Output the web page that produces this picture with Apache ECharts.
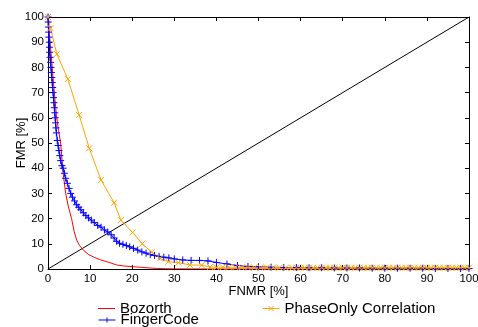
<!DOCTYPE html>
<html>
<head>
<meta charset="utf-8">
<script src="https://cdn.jsdelivr.net/npm/echarts@6/dist/echarts.min.js"></script>
<style>
  html, body { margin: 0; padding: 0; background: #fff; }
  #chart { width: 478px; height: 327px; }
</style>
</head>
<body>
<div id="chart"></div>
<script>
// FNMR [%] vs FMR [%] pairs
const bozorth = [
    [0, 100], [0.5, 90], [1.0, 80], [1.5, 70], [2.0, 61], [2.5, 55], [3.0, 50],
    [3.6, 38], [4.2, 30], [4.8, 25], [5.6, 20], [6.2, 15],
    [6.8, 11.5], [7.5, 9.3], [8.4, 7.5], [9.6, 5.8], [11, 4.6], [12.4, 3.7],
    [14.7, 2.5], [16.3, 1.6], [18, 1.2], [20.2, 0.9], [22, 0.7], [24.2, 0.4],
    [26, 0.2], [28, 0.1], [30, 0.05], [40, 0], [60, 0], [80, 0], [100, 0]
];

const fingerCode = [
    [0, 100], [0.05, 98], [0.1, 96], [0.15, 94], [0.2, 92], [0.3, 90], [0.35, 88],
    [0.4, 86], [0.5, 84], [0.6, 82], [0.7, 80], [0.8, 78], [0.9, 76], [1.0, 74],
    [1.1, 72], [1.2, 70], [1.3, 68], [1.4, 66], [1.5, 64], [1.6, 62], [1.7, 60],
    [1.8, 58], [1.9, 56], [2.0, 54], [2.2, 51], [2.4, 49], [2.6, 47], [2.8, 45],
    [3.0, 43], [3.3, 41], [3.6, 40], [3.9, 38], [4.2, 36], [4.6, 34], [5.0, 32],
    [5.4, 30], [5.8, 28.5], [6.3, 27], [6.8, 25.5], [7.3, 24.5], [7.8, 23.5],
    [8.4, 22.3], [9.0, 21.2], [9.6, 20.3], [10.3, 19.4], [11.0, 18.4],
    [11.8, 17.3], [12.6, 16.6], [13.4, 15.5], [14.2, 14.7], [15.0, 13.6],
    [15.7, 12.3], [16.3, 11.0], [17.0, 10.2], [17.8, 9.8], [18.6, 9.3],
    [19.4, 8.8], [20.3, 8.2], [21.3, 7.5], [22.3, 6.8], [23.3, 6.3], [24.3, 5.7],
    [25.3, 5.4], [26.4, 5.0], [27.5, 4.7], [28.7, 4.4], [30.0, 4.0], [32.0, 3.6],
    [34.0, 3.4], [36.0, 3.4], [38.0, 3.2], [40.0, 2.6], [42.5, 2.0], [45.0, 1.4],
    [47.5, 1.0], [50, 0.9], [53, 0.7], [56, 0.6], [59, 0.6], [62, 0.5], [65, 0.5],
    [68, 0.4], [71, 0.4], [74, 0.4], [77, 0.3], [80, 0.3], [83, 0.3], [86, 0.3],
    [89, 0.3], [92, 0.2], [95, 0.2], [98, 0.2], [100, 0.2]
];

const phaseOnly = [
    [0, 100], [0.6, 95.6], [2.1, 85.3], [4.7, 75.4], [7.4, 61.1], [9.8, 47.9],
    [12.6, 35.3], [15.7, 26.3], [17.3, 19.4], [20.1, 14.5], [22.4, 10.0],
    [24.6, 6.7], [26.6, 4.2], [28.6, 2.9], [31.0, 2.5], [33.7, 1.6], [36.5, 1.5],
    [38.5, 0.8], [40, 0.7], [41.5, 0.7], [43, 0.7], [44.5, 0.7], [46, 0.6],
    [47.5, 0.6], [49, 0.6], [50.5, 0.6], [52, 0.6], [53.5, 0.6], [55, 0.5],
    [56.5, 0.5], [58, 0.5], [59, 0.5], [60, 0.5], [61, 0.5], [62, 0.5], [63, 0.5],
    [64, 0.5], [65, 0.5], [66, 0.5], [67, 0.5], [68, 0.5], [69, 0.5], [70, 0.5],
    [71, 0.5], [72, 0.5], [73, 0.5], [74, 0.5], [75, 0.5], [76, 0.5], [77, 0.5],
    [78, 0.5], [79, 0.5], [80, 0.5], [81, 0.5], [82, 0.5], [83, 0.5], [84, 0.5],
    [85, 0.5], [86, 0.5], [87, 0.5], [88, 0.5], [89, 0.5], [90, 0.5], [91, 0.5],
    [92, 0.5], [93, 0.5], [94, 0.5], [95, 0.5], [96, 0.5], [97, 0.5], [98, 0.5],
    [99, 0.5], [100, 0.5]
];

const diagonal = [[0, 0], [100, 100]];

const font = "'Liberation Sans', Arial, sans-serif";
const plusPath = "path://M5,0L5,10M0,5L10,5";
const crossPath = "path://M0,0L10,10M10,0L0,10";

const chart = echarts.init(document.getElementById("chart"));

const tickInside = { inside: true, length: 4, lineStyle: { color: "#000" } };
const axisLine = { show: true, onZero: false, lineStyle: { color: "#000", width: 1 } };
const legendText = { fontSize: 15, color: "#000", fontFamily: font };

const option = {
    animation: false,
    textStyle: { fontFamily: font },
    grid: { left: 48, right: 9, top: 17, bottom: 58, containLabel: false, outerBoundsMode: "none" },
    legend: [
        {
            left: 98, top: 301, padding: 0, itemWidth: 17, itemHeight: 1,
            data: [{
                name: "Bozorth", icon: "rect",
                itemStyle: { color: "#ff0000", borderWidth: 0 }
            }],
            textStyle: legendText
        },
        {
            left: 262, top: 301, padding: 0, itemWidth: 17, itemHeight: 5,
            data: [{
                name: "PhaseOnly Correlation",
                icon: "path://M0,5L17,5M6,2.5L11,7.5M11,2.5L6,7.5",
                itemStyle: { color: "#ffa500", borderColor: "#ffa500", borderWidth: 1 }
            }],
            textStyle: legendText
        },
        {
            left: 98, top: 312.5, padding: 0, itemWidth: 17, itemHeight: 5,
            data: [{
                name: "FingerCode",
                icon: "path://M0,5L17,5M8.5,2.5L8.5,7.5",
                itemStyle: { color: "#0000ff", borderColor: "#0000ff", borderWidth: 1 }
            }],
            textStyle: legendText
        }
    ],
    xAxis: [
        {
            type: "value", min: 0, max: 100, interval: 10, position: "bottom",
            name: "FNMR [%]", nameLocation: "middle", nameGap: 16, nameMoveOverlap: false,
            nameTextStyle: { fontSize: 13, color: "#000", fontFamily: font },
            axisLine: axisLine, axisTick: tickInside, splitLine: { show: false },
            axisLabel: { color: "#000", fontSize: 11.5, margin: 4, fontFamily: font }
        },
        {
            type: "value", min: 0, max: 100, interval: 10, position: "top",
            axisLine: axisLine, axisTick: tickInside, splitLine: { show: false },
            axisLabel: { show: false }
        }
    ],
    yAxis: [
        {
            type: "value", min: 0, max: 100, interval: 10, position: "left",
            name: "FMR [%]", nameLocation: "middle", nameGap: 20, nameMoveOverlap: false,
            nameTextStyle: { fontSize: 13, color: "#000", fontFamily: font },
            axisLine: axisLine, axisTick: tickInside, splitLine: { show: false },
            axisLabel: { color: "#000", fontSize: 11.5, margin: 4, fontFamily: font }
        },
        {
            type: "value", min: 0, max: 100, interval: 10, position: "right",
            axisLine: axisLine, axisTick: tickInside, splitLine: { show: false },
            axisLabel: { show: false }
        }
    ],
    series: [
        {
            name: "diag", type: "line", data: diagonal, symbol: "none",
            lineStyle: { color: "#000", width: 1 }, silent: true
        },
        {
            name: "Bozorth", type: "line", data: bozorth, symbol: "none",
            color: "#ff0000", lineStyle: { color: "#ff0000", width: 1 }
        },
        {
            name: "FingerCode", type: "line", data: fingerCode,
            symbol: plusPath, symbolSize: 7, showAllSymbol: true,
            color: "#0000ff",
            lineStyle: { color: "#0000ff", width: 1 },
            itemStyle: { color: "#0000ff", borderColor: "#0000ff", borderWidth: 1 }
        },
        {
            name: "PhaseOnly Correlation", type: "line", data: phaseOnly,
            symbol: crossPath, symbolSize: 6, showAllSymbol: true,
            color: "#ffa500",
            lineStyle: { color: "#ffa500", width: 1 },
            itemStyle: { color: "#ffa500", borderColor: "#ffa500", borderWidth: 1 }
        }
    ]
};

chart.setOption(option);
</script>
</body>
</html>
